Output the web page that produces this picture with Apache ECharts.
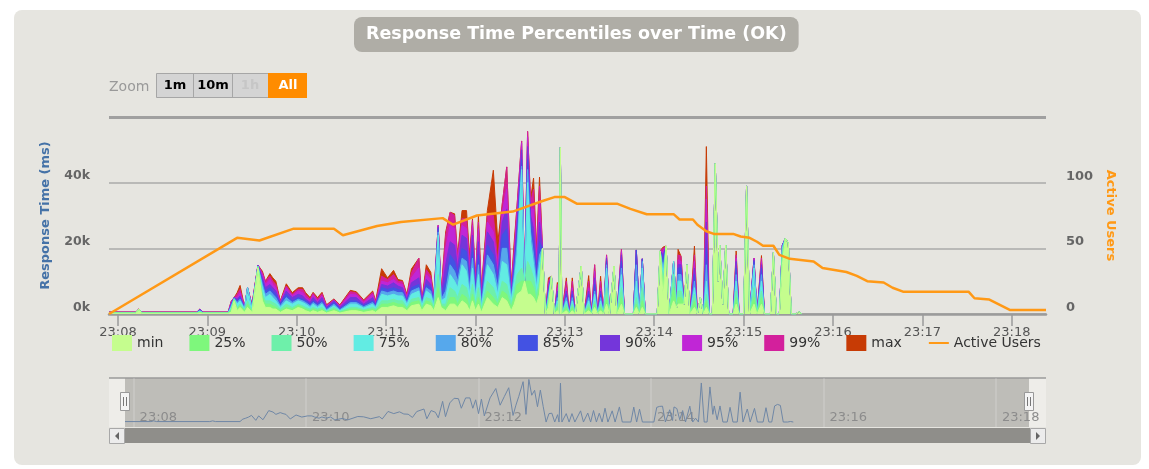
<!DOCTYPE html>
<html>
<head>
<meta charset="utf-8">
<title>Response Time Percentiles over Time (OK)</title>
<script src="https://cdn.jsdelivr.net/npm/echarts@6/dist/echarts.min.js"></script>
<style>
    html, body { margin: 0; padding: 0; background: #fff; }
    #panel { position: absolute; left: 14px; top: 10px; width: 1127px; height: 455px; background: #e6e5e0; border-radius: 8px; }
    #container { position: absolute; left: 0; top: 0; width: 1149px; height: 469px; }
</style>
</head>
<body>
<div id="panel"></div>
<div id="container"></div>
<script>
    // x: seconds after 23:08:00, y: response time in thousands of ms
    let times = [-6,12,14,16,53,55,57,74,76,78,
        80,82,85,87,90,94,97,99,102,104,
        106,109,113,117,121,124,126,129,131,134,
        137,140,145,149,156,160,165,171,173,177,
        181,185,188,191,194,197,202,204,207,210,
        212,215,217,220,223,226,228,231,234,236,
        238,240,242,244,248,252,255,258,261,264,
        266,268,271,273,275,277,279,281,283,285,
        287,289,291,293,295,296,297,298,301,303,
        305,307,311,313,316,318,320,322,324,326,
        328,330,333,335,338,340,346,348,350,352,
        354,362,364,366,368,370,373,375,376,378,
        380,382,384,387,389,391,393,395,397,399,
        401,403,404,406,408,410,413,415,417,420,
        422,424,427,429,432,434,438,440,442,444,
        446,448,450,452,455,457,459];

    let minData = [.2,.2,1.5,.2,.2,.3,.2,.2,.5,4,
        1,2,.5,2,.5,14,4,2,2,1.5,
        1.5,.5,1.5,1,2,1.5,1,.5,1,.5,
        1,.3,1,.3,1,1,.5,1,.5,2,
        2,2.5,2,2,1,2.5,3,1,3,2.5,
        1,5,2,1,3,3,2,4,3,1,
        4,1,3,.5,5,3,2,5,4,1,
        3,6,7,10,6,6,5,3,6,20,
        0,2,11.5,0,1,0,50.7,0,1,0,
        1,0,14.6,0,1,0,2,0,1,0,
        3,0,14.6,0,3,0,0,2,0,2,
        0,0,19.2,5,20.7,0,4,2,3,3,
        3,15,0,2,0,5,0,2,0,0,
        45.8,10,21,3,21,0,0,3,0,0,
        39,0,3,0,3,0,0,18.7,0,0,
        15,23,21.7,0,0,.7,0];

    let p25Data = [.3,.3,1.5,.3,.3,.5,.3,.3,1,4.2,
        1.5,2.5,1,3,.8,14.2,5,3,3,2.5,
        2,1,2,1.5,2.5,2,1.5,1,1.5,1,
        1.5,.5,1.5,.5,1.5,1.5,1,1.5,1,3,
        3,3.5,3,3,1.5,3.5,4,1.5,4,3.5,
        1.5,8,2.5,2,5,5,3,6,5,2,
        6,2,5,1,7,5,3,7,6,2,
        5,9,10,10,10,10,8,4,8,20,
        0,3,11.5,0,2,0,50.7,0,2,0,
        2,0,14.6,0,2,0,3,0,2,0,
        5,0,14.6,0,5,0,0,3,0,4,
        0,0,19.2,7,20.7,0,8,2,5,5,
        3,15,0,4,0,5,0,4,0,0,
        45.8,10,21,3,21,0,0,5,0,0,
        39,0,5,0,5,0,0,18.7,0,0,
        17,23,21.7,0,0,.7,0];

    let p50Data = [.3,.3,1.5,.3,.3,.7,.3,.3,1.5,4.5,
        2,3,1.2,4,1,14.4,6,4,4,3.5,
        3,1.5,3,2,3,2.5,2,1.5,2,1.5,
        2,.8,2,.8,2,2,1.3,2,1.5,4,
        4,4.5,4,4,2,4.5,5,2,5,4.5,
        2,12,3,3,8,7,5,9,8,4,
        9,3,8,1.5,10,8,4,10,9,3,
        7,12,14,10,16,14,11,6,10,20,
        0,4,11.5,0,3,0,50.7,0,3,0,
        3,0,14.6,0,3,0,4,0,3,0,
        8,0,14.6,0,8,0,0,5,0,8,
        0,0,19.2,9,20.7,0,12,2,7,7,
        3,15,0,6,0,5,0,6,0,0,
        45.8,10,21,3,21,0,0,7,0,0,
        39,0,8,0,7,0,0,18.7,0,0,
        19,23,21.7,0,0,.7,0];

    let p75Data = [.4,.4,1.5,.4,.4,.9,.4,.4,2,4.6,
        3,4,1.5,8,1.5,14.5,8,5,6,5,
        4,2,4,3,4,3.5,3,2,3,2,
        3,1,2.5,1,3,3,1.8,3,2,6,
        5.5,6,5.5,5.5,3,6,7,2.5,7,6,
        2.5,24,4,5,12,10,8,15,13,6,
        14,5,12,2,15,12,6,16,15,4,
        10,18,44,10,40,22,15,8,15,20,
        0,5,11.5,0,4,0,50.7,0,4,0,
        4,0,14.6,0,4,0,6,0,4,0,
        14,0,14.6,0,12,0,0,10,0,14,
        0,0,19.2,12,20.7,0,16,2,10,10,
        3,15,0,8,0,5,0,10,0,0,
        45.8,10,21,3,21,0,0,10,0,0,
        39,0,14,0,10,0,0,18.7,0,0,
        20,23,21.7,0,0,.7,0];

    let p80Data = [.4,.4,1.5,.4,.4,1,.4,.4,2.5,4.8,
        3.5,4.5,1.7,8,1.8,14.6,9,6,7,6,
        5,2.5,5,3.5,4.5,4,3.5,2.5,3.5,2.5,
        3.5,1.3,3,1.3,3.5,3.5,2.2,3.5,2.3,7,
        6.5,7,6.5,6.5,3.5,7,8,3,8,7,
        3,25,4.5,7,15,13,10,17,16,8,
        17,6,15,3,18,15,8,20,20,5,
        12,22,45,10,44,25,18,10,18,20,
        0,6,11.5,0,5,0,50.7,0,5,0,
        5,0,14.6,0,5,0,7,0,5,0,
        15,0,14.6,0,14,0,0,15,0,16,
        0,0,19.2,14,20.7,0,16,2,12,12,
        3,15,0,10,0,5,0,15,0,0,
        45.8,10,21,3,21,0,0,12,0,0,
        39,0,15,0,12,0,0,18.7,0,0,
        20.5,23,21.7,0,0,.7,0];

    let p85Data = [.4,.4,1.5,.4,.4,1.2,.4,.4,2.8,5,
        4,5,1.8,8,2,14.7,10,7,8,7,
        6,3,6,4,5,4.5,4,3,4,3,
        4,1.6,3.5,1.6,4,4,2.6,4,2.6,8,
        7.5,8,7.5,7,4,8,9,3.3,9,8,
        3.5,26,5,10,18,16,12,20,19,10,
        20,7,18,4,21,18,10,24,26,5.5,
        14,25,47,10,47,28,22,12,22,20,
        0,7,11.5,0,6,0,50.7,0,6,0,
        6,0,14.6,0,6,0,9,0,6,0,
        16,0,14.6,0,16,0,0,19.5,0,16.8,
        0,0,19.2,16,20.7,0,16,2,14,14,
        3,15,0,12,0,5,0,20,0,0,
        45.8,10,21,3,21,0,0,14,0,0,
        39,0,16,0,14,0,0,18.7,0,0,
        20.8,23,21.7,0,0,.7,0];

    let p90Data = [.5,.5,1.5,.5,.5,1.5,.5,.5,3,5,
        4.5,5.5,2,8,2.3,14.8,11,8,9,8,
        7,3.3,7,5,6,5.5,4.5,3.5,5,3.5,
        5,2,4,2,5,5,3,5,3,9,
        8.5,9.5,8.5,8,4.5,9.5,11,3.6,10.5,9,
        4,26.5,5.5,15,22,21,14,24,23,12,
        24,8,22,5,25,22,12,28,32,6,
        16,28,50,10,51,30,26,14,28,20,
        0,8,11.5,0,7,0,50.7,0,7,0,
        7,0,14.6,0,7,0,11,0,7,0,
        17,0,14.6,0,18,0,0,19.5,0,16.8,
        0,0,19.2,18,20.7,0,16,2,15,15,
        3,15,0,14,0,5,0,28,0,0,
        45.8,10,21,3,21,0,0,16,0,0,
        39,0,16.5,0,15,0,0,18.7,0,0,
        21,23,21.7,0,0,.7,0];

    let p95Data = [.5,.5,1.5,.5,.5,1.5,.5,.5,3.5,5,
        5,6.5,2.1,8,2.5,14.9,12,9,10.5,9,
        8,3.6,8,5.5,7,6.5,5,4,5.8,4,
        5.5,2.3,4.2,2.3,6,5.8,3.5,6,3.3,10,
        9.5,10.5,9.3,9,5,11,14,3.8,12,10.5,
        4.5,27,6,20,27,26,16,27,26,14,
        27,9,26,6,28,25,14,31,38,7,
        18,31,52,10,54,32,32,16,34,20,
        0,9,11.5,0,8,0,50.7,0,8,0,
        8,0,14.6,0,8,0,13,0,8,0,
        17.5,0,14.6,0,19,0,0,19.5,0,16.8,
        0,0,19.2,19,20.7,0,16,2,16.5,16,
        3,15,0,16,0,5,0,35,0,0,
        45.8,10,21,3,21,0,0,17,0,0,
        39,0,17,0,16,0,0,18.7,0,0,
        21,23,21.7,0,0,.7,0];

    let p99Data = [.6,.6,1.5,.6,.6,1.5,.6,.6,3.8,5,
        6,7.5,2.2,8,2.8,14.9,12.5,10,11.5,10,
        9,3.8,8.5,6,7.5,7.5,6,4.5,6.3,4.5,
        6.2,2.6,4.4,2.6,6.8,6.4,4,6.6,3.6,11.5,
        10.5,12,10,9.8,5.5,12.5,17,4,13.5,11.5,
        5,27,6.5,24,31,30,17,29,29,16,
        28.5,10,28,7,30,30,16,33.5,44.8,8,
        20,33.5,52.7,10,55.6,34,38,18,39,20,
        0,10,11.5,0,9,0,50.7,0,10,0,
        10,0,14.6,0,10,0,15,0,10,0,
        18,0,14.6,0,19.7,0,0,19.5,0,16.8,
        0,0,19.2,20,20.7,0,16,2,18,17.6,
        3,15,0,18,0,5,0,39,0,0,
        45.8,10,21,3,21,0,0,18,0,0,
        39,0,17,0,17,0,0,18.7,0,0,
        21,23,21.7,0,0,.7,0];

    let maxData = [.6,.6,1.5,.6,.6,1.5,.6,.6,3.8,5,
        6.5,8.7,2.2,8,3,14.9,13,10,12.3,11,
        10,4,9.2,6.5,8,8,6.5,5,6.6,5,
        6.6,2.8,4.6,2.8,7.2,6.8,4.3,7,4,13.8,
        11,13.3,10.5,10.2,6,13.7,17,4.2,15,12.7,
        5.5,27,7,25,31,30.5,18,31.5,31.5,18,
        29,11,30,8,31.5,43.8,22,33.5,44.8,8.6,
        22,33.5,52.7,10,55.6,35,41.4,20,41.7,20,
        0,11,11.5,0,9.6,0,50.7,0,11,0,
        11,0,14.6,0,11.7,0,15,0,11.5,0,
        18,0,14.6,0,19.7,0,0,19.5,0,16.8,
        0,0,19.2,20.4,20.7,0,16,2,19.7,17.6,
        3,15,0,20.7,0,5,0,51,0,0,
        45.8,10,21,3,21,0,0,19.2,0,0,
        39,0,17,0,17.8,0,0,18.7,0,0,
        21,23,21.7,0,0,.7,0];

    let userTimes = [-6,80,95,118,145,151,174,190,218,225,
        241,265,285,293,300,308,335,344,355,373,
        377,386,389,395,400,413,418,424,429,433,
        440,444,451,467,473,489,496,503,514,520,
        527,571,575,585,592,599,623];
    let userData = [0,58,56,65,65,60,67,70,73,68,
        75,78,86,89,89,84,84,80,76,76,
        72,72,68,63,61,61,59,58,55,52,
        52,45,42,40,35,32,29,25,24,20,
        17,17,12,11,7,3,3];

    let tickLabels = ['23:08','23:09','23:10','23:11','23:12','23:13','23:14','23:15','23:16','23:17','23:18'];
    let navLabels = ['23:08','23:10','23:12','23:14','23:16','23:18'];

    let percentiles = [
        {name: 'min', color: '#c5fd8e', data: minData},
        {name: '25%', color: '#7ef77c', data: p25Data},
        {name: '50%', color: '#6ef0aa', data: p50Data},
        {name: '75%', color: '#62ece3', data: p75Data},
        {name: '80%', color: '#56a8ec', data: p80Data},
        {name: '85%', color: '#4352e3', data: p85Data},
        {name: '90%', color: '#7436da', data: p90Data},
        {name: '95%', color: '#c026d6', data: p95Data},
        {name: '99%', color: '#d3209c', data: p99Data},
        {name: 'max', color: '#c73b05', data: maxData}
    ];

    const FONT = '"DejaVu Sans", sans-serif';

    function pairs(xs, ys) {
        if (xs.length !== ys.length) {
            throw new Error('length mismatch ' + xs.length + ' / ' + ys.length);
        }
        return xs.map(function(x, i) { return [x, ys[i]]; });
    }

    function buildSeries() {
        let list = [];
        // max at the back, min in front
        percentiles.slice().reverse().forEach(function(p) {
            let s = {
                name: p.name,
                type: 'line',
                xAxisIndex: 0,
                yAxisIndex: 0,
                data: pairs(times, p.data),
                symbol: 'none',
                lineStyle: {width: 1, color: p.color},
                itemStyle: {color: p.color},
                areaStyle: {color: p.color, opacity: 1}
            };
            if (p.name === 'max') {
                s.markLine = {
                    silent: true,
                    symbol: 'none',
                    label: {show: false},
                    lineStyle: {color: '#a0a0a0', width: 3, type: 'solid'},
                    data: [{yAxis: 60}]
                };
            }
            list.push(s);
        });
        list.push({
            name: 'Active Users',
            type: 'line',
            xAxisIndex: 0,
            yAxisIndex: 1,
            data: pairs(userTimes, userData),
            symbol: 'none',
            lineStyle: {width: 2.5, color: '#ff9916'},
            itemStyle: {color: '#ff9916'},
            z: 5
        });
        // navigator line
        list.push({
            name: 'navigator',
            type: 'line',
            xAxisIndex: 1,
            yAxisIndex: 2,
            data: pairs(times, maxData),
            symbol: 'none',
            lineStyle: {width: 1, color: '#6f87a6'},
            silent: true
        });
        return list;
    }

    function buildGraphics() {
        let g = [];
        // zoom buttons
        g.push({type: 'text', x: 109, y: 87, style: {text: 'Zoom', fill: '#999', font: '14px ' + FONT, verticalAlign: 'middle'}});
        g.push({type: 'rect', shape: {x: 156.5, y: 73.5, width: 150, height: 24}, style: {fill: '#d4d4d4', stroke: '#a6a6a6', lineWidth: 1}});
        g.push({type: 'rect', shape: {x: 268, y: 73, width: 39, height: 25}, style: {fill: '#ff8c00'}});
        g.push({type: 'line', shape: {x1: 193.5, y1: 73.5, x2: 193.5, y2: 97.5}, style: {stroke: '#a6a6a6'}});
        g.push({type: 'line', shape: {x1: 232.5, y1: 73.5, x2: 232.5, y2: 97.5}, style: {stroke: '#a6a6a6'}});
        [['1m', 175, '#000'], ['10m', 213, '#000'], ['1h', 250, '#c6c6c6'], ['All', 288, '#fff']].forEach(function(b) {
            g.push({type: 'text', x: b[1], y: 86, style: {text: b[0], fill: b[2], font: 'bold 13px ' + FONT, align: 'center', verticalAlign: 'middle'}});
        });
        // navigator frame
        g.push({type: 'rect', shape: {x: 109, y: 378, width: 16, height: 49}, style: {fill: '#eeede9'}});
        g.push({type: 'rect', shape: {x: 1029, y: 378, width: 17, height: 49}, style: {fill: '#eeede9'}});
        g.push({type: 'line', shape: {x1: 109, y1: 378, x2: 1046, y2: 378}, style: {stroke: '#9a9a9a', lineWidth: 1.5}});
        // scrollbar
        g.push({type: 'rect', shape: {x: 125, y: 428, width: 905, height: 15}, style: {fill: '#8f8e8a'}});
        g.push({type: 'rect', shape: {x: 109.5, y: 428.5, width: 15, height: 15}, style: {fill: '#ececec', stroke: '#a8a8a8'}});
        g.push({type: 'rect', shape: {x: 1030.5, y: 428.5, width: 15, height: 15}, style: {fill: '#ececec', stroke: '#a8a8a8'}});
        g.push({type: 'polygon', shape: {points: [[119, 432], [119, 440], [115, 436]]}, style: {fill: '#666'}});
        g.push({type: 'polygon', shape: {points: [[1036, 432], [1036, 440], [1040, 436]]}, style: {fill: '#666'}});
        // handles
        [120.5, 1024.5].forEach(function(hx) {
            g.push({type: 'rect', z: 100, shape: {x: hx, y: 392.5, width: 9, height: 18}, style: {fill: '#f4f4f4', stroke: '#999'}});
            g.push({type: 'line', z: 101, shape: {x1: hx + 3, y1: 397, x2: hx + 3, y2: 406}, style: {stroke: '#777'}});
            g.push({type: 'line', z: 101, shape: {x1: hx + 6, y1: 397, x2: hx + 6, y2: 406}, style: {stroke: '#777'}});
        });
        return g;
    }

    function getCharts() {
        let dom = document.getElementById('container');
        let myChart = echarts.init(dom, null, {renderer: 'canvas'});
        let tickValues = tickLabels.map(function(l, i) { return i * 60; });
        let navValues = navLabels.map(function(l, i) { return i * 120; });

        let legendData = percentiles.map(function(p) {
            return {name: p.name, icon: 'rect'};
        });
        // line only, no marker
        legendData.push({name: 'Active Users', itemStyle: {opacity: 0, borderWidth: 0}});

        let option = {
            animation: false,
            textStyle: {fontFamily: FONT},
            title: {
                text: 'Response Time Percentiles over Time (OK)',
                left: 354,
                top: 17,
                backgroundColor: '#afada6',
                borderRadius: 8,
                padding: [7, 12],
                textStyle: {color: '#fff', fontFamily: FONT, fontSize: 17.5, fontWeight: 'bold', lineHeight: 21}
            },
            legend: {
                left: 112,
                top: 335,
                padding: 0,
                itemWidth: 20,
                itemHeight: 16,
                itemGap: 26,
                selectedMode: false,
                textStyle: {fontFamily: FONT, fontSize: 14, color: '#333'},
                data: legendData
            },
            grid: [
                {left: 109, top: 117, width: 937, height: 197},
                {left: 125, top: 378, width: 904, height: 49, show: true, backgroundColor: '#bebdb8', borderWidth: 0}
            ],
            xAxis: [{
                type: 'value',
                gridIndex: 0,
                min: -6,
                max: 623,
                axisLine: {lineStyle: {color: '#9b9b9b', width: 2.5}},
                axisTick: {customValues: tickValues, length: 12, lineStyle: {color: '#9b9b9b', width: 1.5}},
                axisLabel: {
                    customValues: tickValues,
                    margin: 12,
                    color: '#555',
                    fontSize: 13,
                    fontFamily: FONT,
                    formatter: function(v) { return tickLabels[Math.round(v / 60)]; }
                },
                splitLine: {show: false}
            }, {
                type: 'value',
                gridIndex: 1,
                min: -6,
                max: 623,
                axisLine: {show: false},
                axisTick: {show: false, customValues: navValues},
                axisLabel: {
                    customValues: navValues,
                    inside: true,
                    margin: 3,
                    align: 'left',
                    padding: [0, 0, 0, 6],
                    color: '#8c8c8c',
                    fontSize: 13,
                    fontFamily: FONT,
                    formatter: function(v) { return navLabels[Math.round(v / 120)]; }
                },
                splitLine: {show: true, lineStyle: {color: 'rgba(255,255,255,0.15)', width: 2}}
            }],
            yAxis: [{
                type: 'value',
                gridIndex: 0,
                min: 0,
                max: 60,
                interval: 20,
                name: 'Response Time (ms)',
                nameLocation: 'middle',
                nameGap: 57,
                nameRotate: 90,
                nameTextStyle: {color: '#4572a7', fontWeight: 'bold', fontSize: 13, fontFamily: FONT},
                axisLine: {show: false},
                axisTick: {show: false},
                axisLabel: {
                    showMaxLabel: false,
                    margin: 19,
                    verticalAlign: 'bottom',
                    color: '#666',
                    fontWeight: 'bold',
                    fontSize: 12.5,
                    fontFamily: FONT,
                    formatter: function(v) { return v + 'k'; }
                },
                splitLine: {lineStyle: {color: '#aaa', width: 1.5}}
            }, {
                type: 'value',
                gridIndex: 0,
                position: 'right',
                min: 0,
                max: 150,
                interval: 50,
                name: 'Active Users',
                nameLocation: 'middle',
                nameGap: 57,
                nameRotate: -90,
                nameTextStyle: {color: '#ff9916', fontWeight: 'bold', fontSize: 13, fontFamily: FONT},
                axisLine: {show: false},
                axisTick: {show: false},
                axisLabel: {
                    showMaxLabel: false,
                    margin: 20,
                    verticalAlign: 'bottom',
                    color: '#666',
                    fontWeight: 'bold',
                    fontSize: 13,
                    fontFamily: FONT
                },
                splitLine: {show: false}
            }, {
                type: 'value',
                gridIndex: 1,
                min: -6.5,
                max: 57.5,
                show: false
            }],
            graphic: buildGraphics(),
            series: buildSeries()
        };
        myChart.setOption(option, true);
    }

    getCharts();
</script>
</body>
</html>
